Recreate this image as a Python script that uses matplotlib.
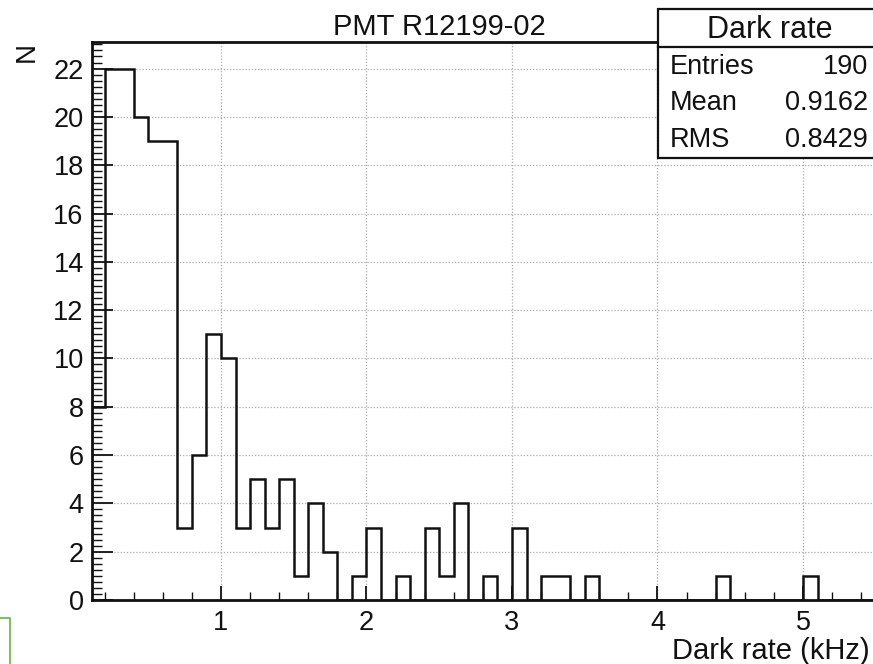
import numpy as np
import matplotlib
matplotlib.use('Agg')
import matplotlib.pyplot as plt
from matplotlib.patches import Rectangle
from matplotlib.lines import Line2D
from matplotlib.ticker import MultipleLocator

plt.rcParams['font.family'] = ['Liberation Sans', 'DejaVu Sans']

# histogram of dark rates, bins of 0.1 kHz starting at 0.1
bin_start = 0.1
bin_width = 0.1
counts = [8, 22, 22, 20, 19, 19, 3, 6, 11, 10,
          3, 5, 3, 5, 1, 4, 2, 0, 1, 3,
          0, 1, 0, 3, 1, 4, 0, 1, 0, 3,
          0, 1, 1, 0, 1, 0, 0, 0, 0, 0,
          0, 0, 0, 1, 0, 0, 0, 0, 0, 1,
          0, 0, 0, 0]
edges = bin_start + bin_width * np.arange(len(counts) + 1)

title = 'PMT R12199-02'
stats_title = 'Dark rate'
stats_names = ['Entries', 'Mean', 'RMS']
stats_values = ['190', '0.9162', '0.8429']

W, H = 873, 664
fig = plt.figure(figsize=(W / 100, H / 100), dpi=100)

# axes box in pixels: left 92, right ~875, top 42, bottom 600
ax = fig.add_axes([92 / W, 1 - 600 / H, (875 - 92) / W, (600 - 42) / H])

ax.stairs(counts, edges, color='#111111', linewidth=1.8, baseline=0, zorder=3)

ax.set_xlim(0.1134, 5.495)
ax.set_ylim(0, 23.1)

ax.xaxis.set_major_locator(MultipleLocator(1))
ax.xaxis.set_minor_locator(MultipleLocator(0.2))
ax.yaxis.set_major_locator(MultipleLocator(2))
ax.yaxis.set_minor_locator(MultipleLocator(0.25))

ax.grid(True, which='major', color='#aaaaaa', linestyle=(0, (1, 1.5)), linewidth=0.9)
ax.set_axisbelow(True)

ax.tick_params(axis='y', which='major', direction='in', length=15, width=1.3,
               labelsize=19.5, pad=6, colors='#111111')
ax.tick_params(axis='y', which='minor', direction='in', length=7.5, width=1.0,
               colors='#111111')
ax.tick_params(axis='x', which='major', direction='in', length=10, width=1.3,
               labelsize=19.5, pad=7, colors='#111111')
ax.tick_params(axis='x', which='minor', direction='in', length=5.5, width=1.0,
               colors='#111111')
ax.set_xticks([1, 2, 3, 4, 5])
ax.set_xticklabels(['1', '2', '3', '4', '5'])

for s in ['left', 'bottom', 'top', 'right']:
    ax.spines[s].set_linewidth(2.0)
    ax.spines[s].set_color('#111111')

# titles / axis labels
fig.text(439 / W, 1 - 27 / H, title, ha='center', va='center', fontsize=21,
         color='#111111')
fig.text(870 / W, 1 - 651 / H, 'Dark rate (kHz)', ha='right', va='center',
         fontsize=21, color='#111111')
fig.text(27 / W, 1 - 52 / H, 'N', ha='center', va='center', rotation=90,
         fontsize=20, color='#111111')

# stats box
bx0, bx1, by0, by1, bhead = 658, 885, 9, 158, 47
fig.add_artist(Rectangle((bx0 / W, 1 - by1 / H), (bx1 - bx0) / W, (by1 - by0) / H,
                         transform=fig.transFigure, facecolor='white',
                         edgecolor='#111111', linewidth=1.6, zorder=5))
fig.add_artist(Line2D([bx0 / W, bx1 / W], [1 - bhead / H, 1 - bhead / H],
                      transform=fig.transFigure, color='#111111', linewidth=1.6,
                      zorder=6))
fig.text(770 / W, 1 - 30 / H, stats_title, ha='center', va='center', fontsize=22,
         color='#111111', zorder=7)
rows_y = [67, 103, 140]
for name, val, yy in zip(stats_names, stats_values, rows_y):
    fig.text(670 / W, 1 - yy / H, name, ha='left', va='center', fontsize=19.5,
             color='#111111', zorder=7)
    fig.text(868 / W, 1 - yy / H, val, ha='right', va='center', fontsize=19.5,
             color='#111111', zorder=7)

# green box fragment in the lower left corner
fig.add_artist(Line2D([0, 10 / W, 10 / W], [1 - 618 / H, 1 - 618 / H, 0],
                      transform=fig.transFigure, color='#6cbf4a', linewidth=1.3))

fig.savefig('out.png', dpi=100)
